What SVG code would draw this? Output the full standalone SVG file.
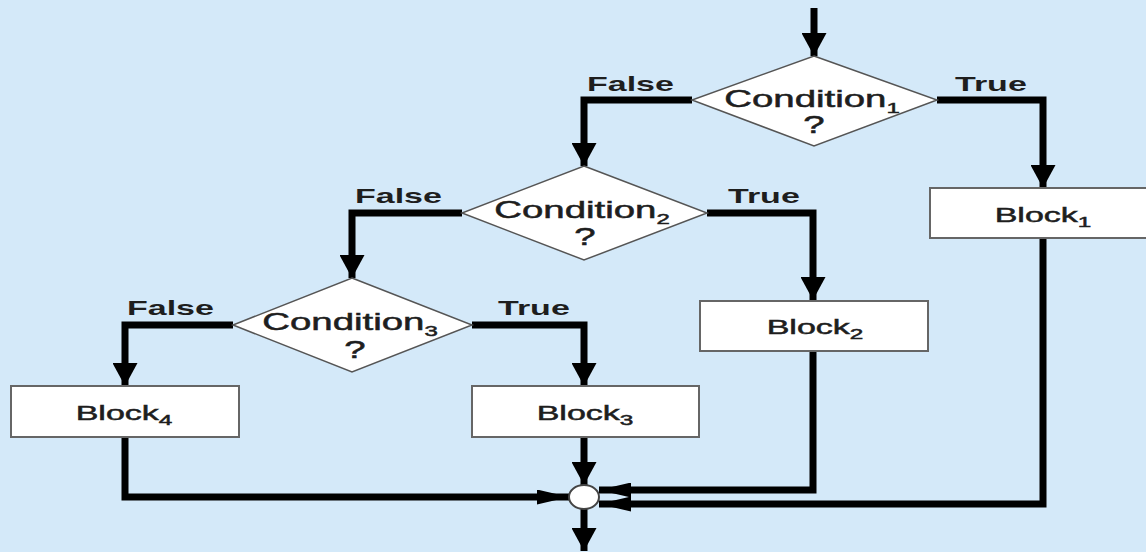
<svg xmlns="http://www.w3.org/2000/svg" width="1146" height="552" viewBox="0 0 1146 552">
  <defs>
    <style>
      .bg { fill: #d4e9f9; }
      .diamond { fill: #ffffff; stroke: #555555; stroke-width: 1.5; }
      .block { fill: #ffffff; stroke: #666666; stroke-width: 2; }
      .join { fill: #ffffff; stroke: #444444; stroke-width: 2; }
      .wire { fill: none; stroke: #000000; stroke-width: 7; stroke-linejoin: miter; stroke-linecap: butt; }
      .head { fill: #000000; }
      text { font-family: "Liberation Sans", Arial, Helvetica, sans-serif; fill: #1e1e1e; }
      .cond { font-size: 24px; stroke: #1e1e1e; stroke-width: 0.5; }
      .blk { font-size: 21px; stroke: #1e1e1e; stroke-width: 0.5; }
      .lbl { font-size: 21px; font-weight: bold; }
      .sub { font-size: 15px; }
    </style>
    <!-- arrowheads: vertical runs get a broad head, horizontal runs a flatter, longer one -->
    <marker id="headV" markerUnits="userSpaceOnUse" viewBox="0 0 23 25" refX="23" refY="12.5" markerWidth="23" markerHeight="25" orient="auto">
      <path class="head" d="M0,0 L23,12.5 L0,25 Z"/>
    </marker>
    <marker id="headH" markerUnits="userSpaceOnUse" viewBox="0 0 32 15" refX="32" refY="7.5" markerWidth="32" markerHeight="15" orient="auto">
      <path class="head" d="M0,0 L32,7.5 L0,15 Z"/>
    </marker>
  </defs>

  <rect class="bg" x="0" y="0" width="1146" height="552"/>

  <!-- connectors -->
  <g id="connectors">
    <path class="wire" d="M814,8 V56" marker-end="url(#headV)"/>
    <path class="wire" d="M692,100 H584 V166" marker-end="url(#headV)"/>
    <path class="wire" d="M937,100 H1043 V188" marker-end="url(#headV)"/>
    <path class="wire" d="M462,213 H352 V278" marker-end="url(#headV)"/>
    <path class="wire" d="M707,213 H813 V300" marker-end="url(#headV)"/>
    <path class="wire" d="M233,325 H125 V386" marker-end="url(#headV)"/>
    <path class="wire" d="M472,325 H584 V386" marker-end="url(#headV)"/>
    <path class="wire" d="M125,437 V497 H569" marker-end="url(#headH)"/>
    <path class="wire" d="M584,437 V485" marker-end="url(#headV)"/>
    <path class="wire" d="M813,351 V490 H599" marker-end="url(#headH)"/>
    <path class="wire" d="M1043,238 V504 H599" marker-end="url(#headH)"/>
    <path class="wire" d="M584,509 V551" marker-end="url(#headV)"/>
  </g>

  <!-- branch labels -->
  <g id="labels">
    <text class="lbl" transform="translate(587,91) scale(1.62,1)">False</text>
    <text class="lbl" transform="translate(955,91) scale(1.62,1)">True</text>
    <text class="lbl" transform="translate(355,203) scale(1.62,1)">False</text>
    <text class="lbl" transform="translate(728,203) scale(1.62,1)">True</text>
    <text class="lbl" transform="translate(127,315) scale(1.62,1)">False</text>
    <text class="lbl" transform="translate(498,315) scale(1.62,1)">True</text>
  </g>

  <!-- decisions -->
  <g id="condition1">
    <polygon class="diamond" points="814,56 937,100 814,146 692,100"/>
    <text class="cond" text-anchor="middle" transform="translate(812,107) scale(1.6,1)">Condition<tspan class="sub" dy="6">1</tspan></text>
    <text class="cond" text-anchor="middle" transform="translate(814,133) scale(1.6,1)">?</text>
  </g>
  <g id="condition2">
    <polygon class="diamond" points="584,166 707,213 584,260 462,213"/>
    <text class="cond" text-anchor="middle" transform="translate(582,218) scale(1.6,1)">Condition<tspan class="sub" dy="6">2</tspan></text>
    <text class="cond" text-anchor="middle" transform="translate(585,245) scale(1.6,1)">?</text>
  </g>
  <g id="condition3">
    <polygon class="diamond" points="352,278 472,325 352,372 233,325"/>
    <text class="cond" text-anchor="middle" transform="translate(350,330) scale(1.6,1)">Condition<tspan class="sub" dy="6">3</tspan></text>
    <text class="cond" text-anchor="middle" transform="translate(355,358) scale(1.6,1)">?</text>
  </g>

  <!-- process blocks -->
  <g id="block1">
    <rect class="block" x="930" y="188" width="230" height="50"/>
    <text class="blk" text-anchor="middle" transform="translate(1043,222) scale(1.62,1)">Block<tspan class="sub" font-size="14" dy="5">1</tspan></text>
  </g>
  <g id="block2">
    <rect class="block" x="700" y="301" width="228" height="50"/>
    <text class="blk" text-anchor="middle" transform="translate(815,334) scale(1.62,1)">Block<tspan class="sub" font-size="14" dy="5">2</tspan></text>
  </g>
  <g id="block3">
    <rect class="block" x="472" y="386" width="227" height="51"/>
    <text class="blk" text-anchor="middle" transform="translate(585,420) scale(1.62,1)">Block<tspan class="sub" font-size="14" dy="5">3</tspan></text>
  </g>
  <g id="block4">
    <rect class="block" x="11" y="386" width="228" height="51"/>
    <text class="blk" text-anchor="middle" transform="translate(124,420) scale(1.62,1)">Block<tspan class="sub" font-size="14" dy="5">4</tspan></text>
  </g>

  <!-- junction -->
  <g id="junction">
    <ellipse class="join" cx="584" cy="497" rx="15" ry="12"/>
  </g>
</svg>
